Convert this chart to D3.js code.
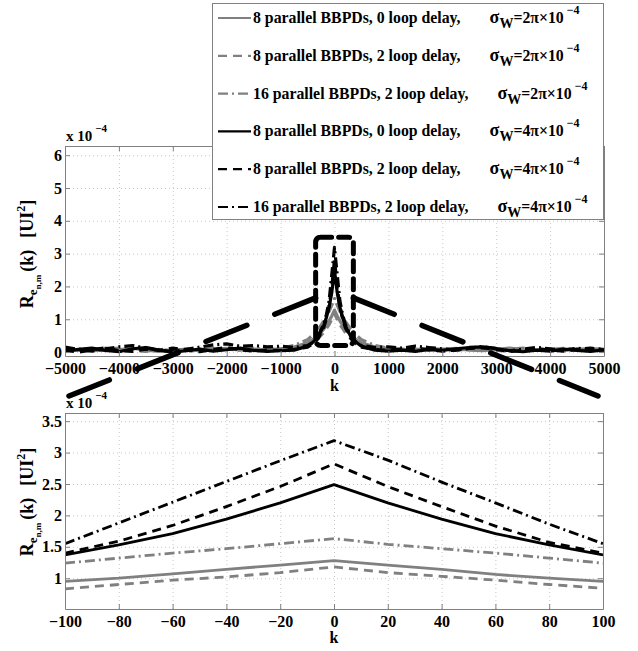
<!DOCTYPE html>
<html>
<head>
<meta charset="utf-8">
<script src="https://cdn.jsdelivr.net/npm/d3@7"></script>
<style>
  body { margin: 0; background: #fff; }
  text { font-family: "Liberation Serif", "Times New Roman", serif; font-weight: bold; fill: #000; }
</style>
</head>
<body>
<script>
// ---- data (values in units of 1e-4 UI^2) ----
var kTop = [-5000,-4750,-4500,-4250,-4000,-3750,-3500,-3250,-3000,-2750,-2500,-2250,-2000,-1750,-1500,-1250,-1000,
  -750,-500,-400,-300,-200,-150,-100,-50,0,50,100,150,200,300,400,500,750,
  1000,1250,1500,1750,2000,2250,2500,2750,3000,3250,3500,3750,4000,4250,4500,4750,5000];

var top_g8_0 = [0.08,0.05,0.10,0.04,0.07,0.12,0.06,0.02,0.05,0.09,0.04,0.08,0.11,0.06,0.09,0.07,0.10,
  0.15,0.28,0.38,0.52,0.70,0.82,0.95,1.10,1.28,1.10,0.95,0.82,0.70,0.52,0.38,0.28,0.15,
  0.10,0.07,0.09,0.05,0.08,0.11,0.06,0.04,0.08,0.12,0.07,0.05,0.09,0.06,0.10,0.08,0.06];
var top_g8_2 = [0.10,0.06,0.03,0.08,0.12,0.05,0.02,0.07,0.10,0.04,0.08,0.05,0.09,0.12,0.07,0.05,0.08,
  0.12,0.22,0.30,0.42,0.60,0.72,0.84,1.00,1.18,1.00,0.84,0.72,0.60,0.42,0.30,0.22,0.12,
  0.08,0.05,0.07,0.10,0.04,0.06,0.09,0.12,0.05,0.03,0.08,0.10,0.06,0.04,0.07,0.09,0.05];
var top_g16_2 = [0.06,0.10,0.07,0.12,0.05,0.09,0.13,0.08,0.04,0.10,0.07,0.12,0.09,0.06,0.11,0.08,0.12,
  0.20,0.38,0.52,0.70,0.94,1.08,1.24,1.43,1.63,1.43,1.24,1.08,0.94,0.70,0.52,0.38,0.20,
  0.12,0.09,0.06,0.11,0.08,0.05,0.10,0.13,0.07,0.09,0.12,0.06,0.08,0.11,0.07,0.10,0.09];
var top_b8_0 = [0.02,0.08,0.12,0.05,0.01,0.10,0.14,0.06,0.00,0.04,0.09,0.03,0.07,0.12,0.05,0.02,0.04,
  0.06,0.18,0.30,0.48,0.80,1.05,1.37,1.82,2.49,1.82,1.37,1.05,0.80,0.48,0.30,0.18,0.06,
  0.03,0.06,0.02,0.08,0.05,0.10,0.14,0.16,0.11,0.04,0.01,0.06,0.03,0.09,0.05,0.02,0.07];
var top_b8_2 = [0.05,0.00,0.07,0.13,0.04,0.02,0.09,0.05,0.12,0.06,0.01,0.08,0.14,0.07,0.03,0.06,0.05,
  0.08,0.15,0.25,0.42,0.75,1.02,1.40,1.97,2.82,1.97,1.40,1.02,0.75,0.42,0.25,0.15,0.08,
  0.05,0.09,0.12,0.07,0.03,0.06,0.11,0.13,0.08,0.02,0.05,0.10,0.06,0.03,0.08,0.12,0.06];
var top_b16_2 = [0.15,0.08,0.03,0.10,0.16,0.20,0.12,0.05,0.02,0.08,0.15,0.22,0.25,0.18,0.20,0.16,0.18,
  0.14,0.20,0.30,0.50,0.85,1.15,1.56,2.37,3.19,2.37,1.56,1.15,0.85,0.50,0.30,0.20,0.14,
  0.16,0.12,0.18,0.14,0.10,0.06,0.12,0.17,0.10,0.04,0.09,0.14,0.10,0.06,0.12,0.08,0.10];

var kBot = [-100,-80,-60,-40,-20,0,20,40,60,80,100];
var bot_g8_0  = [0.95,1.00,1.07,1.14,1.21,1.28,1.21,1.14,1.06,1.00,0.95];
var bot_g8_2  = [0.83,0.90,0.97,1.02,1.09,1.18,1.09,1.03,0.97,0.90,0.84];
var bot_g16_2 = [1.24,1.32,1.40,1.47,1.55,1.63,1.54,1.47,1.40,1.32,1.24];
var bot_b8_0  = [1.37,1.53,1.71,1.94,2.20,2.49,2.20,1.94,1.71,1.53,1.37];
var bot_b8_2  = [1.40,1.59,1.84,2.14,2.46,2.82,2.46,2.14,1.83,1.57,1.40];
var bot_b16_2 = [1.55,1.88,2.21,2.54,2.87,3.19,2.88,2.53,2.20,1.86,1.55];

var legendLabels = ["8 parallel BBPDs, 0 loop delay,", "8 parallel BBPDs, 2 loop delay,", "16 parallel BBPDs, 2 loop delay,",
  "8 parallel BBPDs, 0 loop delay,", "8 parallel BBPDs, 2 loop delay,", "16 parallel BBPDs, 2 loop delay,"];
var sigmaLabels = ["2π", "2π", "2π", "4π", "4π", "4π"];

// zoomed region drawn on the top panel
var zoomK = [-350, 350], zoomR = [0.2, 3.5];

// ---- styles ----
var GRAY = "#808080";
var styles = [
  {color: GRAY, dash: null},
  {color: GRAY, dash: "9,6"},
  {color: GRAY, dash: "10,4,2,4"},
  {color: "#000", dash: null},
  {color: "#000", dash: "9,6"},
  {color: "#000", dash: "10,4,2,4"}
];

var W = 638, H = 651;
var svg = d3.select("body").append("svg").attr("width", W).attr("height", H);

function panel(o) {
  var x = d3.scaleLinear().domain(o.xDomain).range([o.left, o.right]);
  var y = d3.scaleLinear().domain(o.yDomain).range([o.bottom, o.top]);
  var g = svg.append("g");
  var h = o.bottom - o.top, w = o.right - o.left;

  // dotted grid
  g.append("g").attr("transform", "translate(0," + o.bottom + ")")
    .call(d3.axisBottom(x).tickValues(o.xTicks).tickSize(-h).tickFormat(""))
    .call(function(s) { s.select(".domain").remove(); s.selectAll("line").attr("stroke", "#c8c8c8").attr("stroke-dasharray", "1,3"); });
  g.append("g").attr("transform", "translate(" + o.left + ",0)")
    .call(d3.axisLeft(y).tickValues(o.yTicks).tickSize(-w).tickFormat(""))
    .call(function(s) { s.select(".domain").remove(); s.selectAll("line").attr("stroke", "#c8c8c8").attr("stroke-dasharray", "1,3"); });

  // data
  var clipId = "clip" + o.id;
  svg.append("clipPath").attr("id", clipId).append("rect")
    .attr("x", o.left).attr("y", o.top).attr("width", w).attr("height", h);
  var line = d3.line().x(function(d) { return x(d[0]); }).y(function(d) { return y(d[1]); });
  var lg = g.append("g").attr("clip-path", "url(#" + clipId + ")");
  o.series.forEach(function(vals, i) {
    lg.append("path")
      .datum(o.k.map(function(k, j) { return [k, vals[j]]; }))
      .attr("d", line)
      .attr("fill", "none")
      .attr("stroke", styles[i].color)
      .attr("stroke-width", o.lw)
      .attr("stroke-dasharray", styles[i].dash)
      .attr("stroke-linejoin", "round");
  });

  // box with inward ticks
  function styleAxis(s) {
    s.select(".domain").attr("stroke", GRAY);
    s.selectAll(".tick line").attr("stroke", GRAY);
    s.selectAll("text").attr("font-family", "Liberation Serif").attr("font-weight", "bold")
      .attr("font-size", 16).attr("fill", "#000");
  }
  g.append("g").attr("transform", "translate(0," + o.bottom + ")")
    .call(d3.axisBottom(x).tickValues(o.xTicks).tickSize(-5).tickSizeOuter(0).tickPadding(7).tickFormat(d3.format("d")))
    .call(styleAxis);
  g.append("g").attr("transform", "translate(0," + o.top + ")")
    .call(d3.axisTop(x).tickValues(o.xTicks).tickSize(-5).tickSizeOuter(0).tickFormat(""))
    .call(styleAxis);
  g.append("g").attr("transform", "translate(" + o.left + ",0)")
    .call(d3.axisLeft(y).tickValues(o.yTicks).tickSize(-5).tickSizeOuter(0).tickPadding(3).tickFormat(o.yFormat))
    .call(styleAxis);
  g.append("g").attr("transform", "translate(" + o.right + ",0)")
    .call(d3.axisRight(y).tickValues(o.yTicks).tickSize(-5).tickSizeOuter(0).tickFormat(""))
    .call(styleAxis);

  // x label
  g.append("text").attr("x", x(0)).attr("y", o.bottom + o.kOffset)
    .attr("text-anchor", "middle").attr("font-size", 16).text("k");

  // scale factor x 10^-4
  var sf = g.append("text").attr("x", o.left + 1).attr("y", o.top - 5).attr("font-size", 15);
  sf.append("tspan").text("x 10");
  sf.append("tspan").attr("dx", 3).attr("dy", -9).attr("font-size", 11).text("−4");

  // y label
  var yl = g.append("text")
    .attr("transform", "translate(33," + o.labelY + ") rotate(-90)")
    .attr("text-anchor", "middle").attr("font-size", 18);
  yl.append("tspan").text("R");
  yl.append("tspan").attr("dy", 4).attr("font-size", 13).text("e");
  yl.append("tspan").attr("dy", 4).attr("font-size", 9).text("n,m");
  yl.append("tspan").attr("dy", -8).attr("dx", 3).text("(k)");
  yl.append("tspan").attr("dx", 12).text("[UI");
  yl.append("tspan").attr("dy", -8).attr("font-size", 12).text("2");
  yl.append("tspan").attr("dy", 8).text("]");

  return {x: x, y: y, g: g};
}

var topP = panel({
  id: "top", left: 65, right: 604, top: 146, bottom: 356,
  xDomain: [-5000, 5000], yDomain: [-0.12, 6.28],
  xTicks: d3.range(-5000, 5001, 1000), yTicks: d3.range(0, 7, 1),
  yFormat: d3.format("d"), k: kTop, lw: 3.2, kOffset: 35, labelY: 254,
  series: [top_g8_0, top_g8_2, top_g16_2, top_b8_0, top_b8_2, top_b16_2]
});

var botP = panel({
  id: "bot", left: 65, right: 603, top: 413, bottom: 609,
  xDomain: [-100, 100], yDomain: [0.51, 3.63],
  xTicks: d3.range(-100, 101, 20), yTicks: [1, 1.5, 2, 2.5, 3, 3.5],
  yFormat: function(d) { return d === Math.round(d) ? d3.format("d")(d) : d3.format(".1f")(d); },
  k: kBot, lw: 2.8, kOffset: 34, labelY: 502,
  series: [bot_g8_0, bot_g8_2, bot_g16_2, bot_b8_0, bot_b8_2, bot_b16_2]
});

// ---- zoom annotation ----
var zx0 = topP.x(zoomK[0]), zx1 = topP.x(zoomK[1]);
var zy0 = topP.y(zoomR[0]), zy1 = topP.y(zoomR[1]);
svg.append("rect")
  .attr("x", zx0).attr("y", zy1).attr("width", zx1 - zx0).attr("height", zy0 - zy1)
  .attr("rx", 5).attr("fill", "none").attr("stroke", "#000").attr("stroke-width", 5)
  .attr("stroke-dasharray", "11,7").attr("stroke-linecap", "round");

var midY = topP.y((zoomR[0] + zoomR[1]) / 2 - 0.2);
var endY = botP.y.range()[1] - 17;
[[zx0, botP.x(-100) + 4], [zx1, botP.x(100) - 5]].forEach(function(p) {
  svg.append("line")
    .attr("x1", p[0]).attr("y1", midY).attr("x2", p[1]).attr("y2", endY)
    .attr("stroke", "#000").attr("stroke-width", 5.5)
    .attr("stroke-dasharray", "44,30").attr("stroke-linecap", "round");
});

// ---- legend ----
var leg = svg.append("g");
leg.append("rect").attr("x", 212.5).attr("y", 3.5).attr("width", 391).attr("height", 216)
  .attr("fill", "#fff").attr("stroke", GRAY).attr("stroke-width", 1);
legendLabels.forEach(function(lab, i) {
  var by = 23 + i * 37.8;
  leg.append("line").attr("x1", 218).attr("x2", 251).attr("y1", by - 5).attr("y2", by - 5)
    .attr("stroke", styles[i].color).attr("stroke-width", 2.2)
    .attr("stroke-dasharray", styles[i].dash);
  var t = leg.append("text").attr("x", 253).attr("y", by).attr("font-size", 15.8).text(lab);
  var tx = 253 + t.node().getComputedTextLength() + 29;
  var s = leg.append("text").attr("x", tx).attr("y", by).attr("font-size", 15.8);
  s.append("tspan").attr("font-size", 18).text("σ");
  s.append("tspan").attr("dy", 5).attr("font-size", 14).text("W");
  s.append("tspan").attr("dy", -5).text("=" + sigmaLabels[i] + "×10");
  s.append("tspan").attr("dx", 3).attr("dy", -9).attr("font-size", 12).text("−4");
});
</script>
</body>
</html>
